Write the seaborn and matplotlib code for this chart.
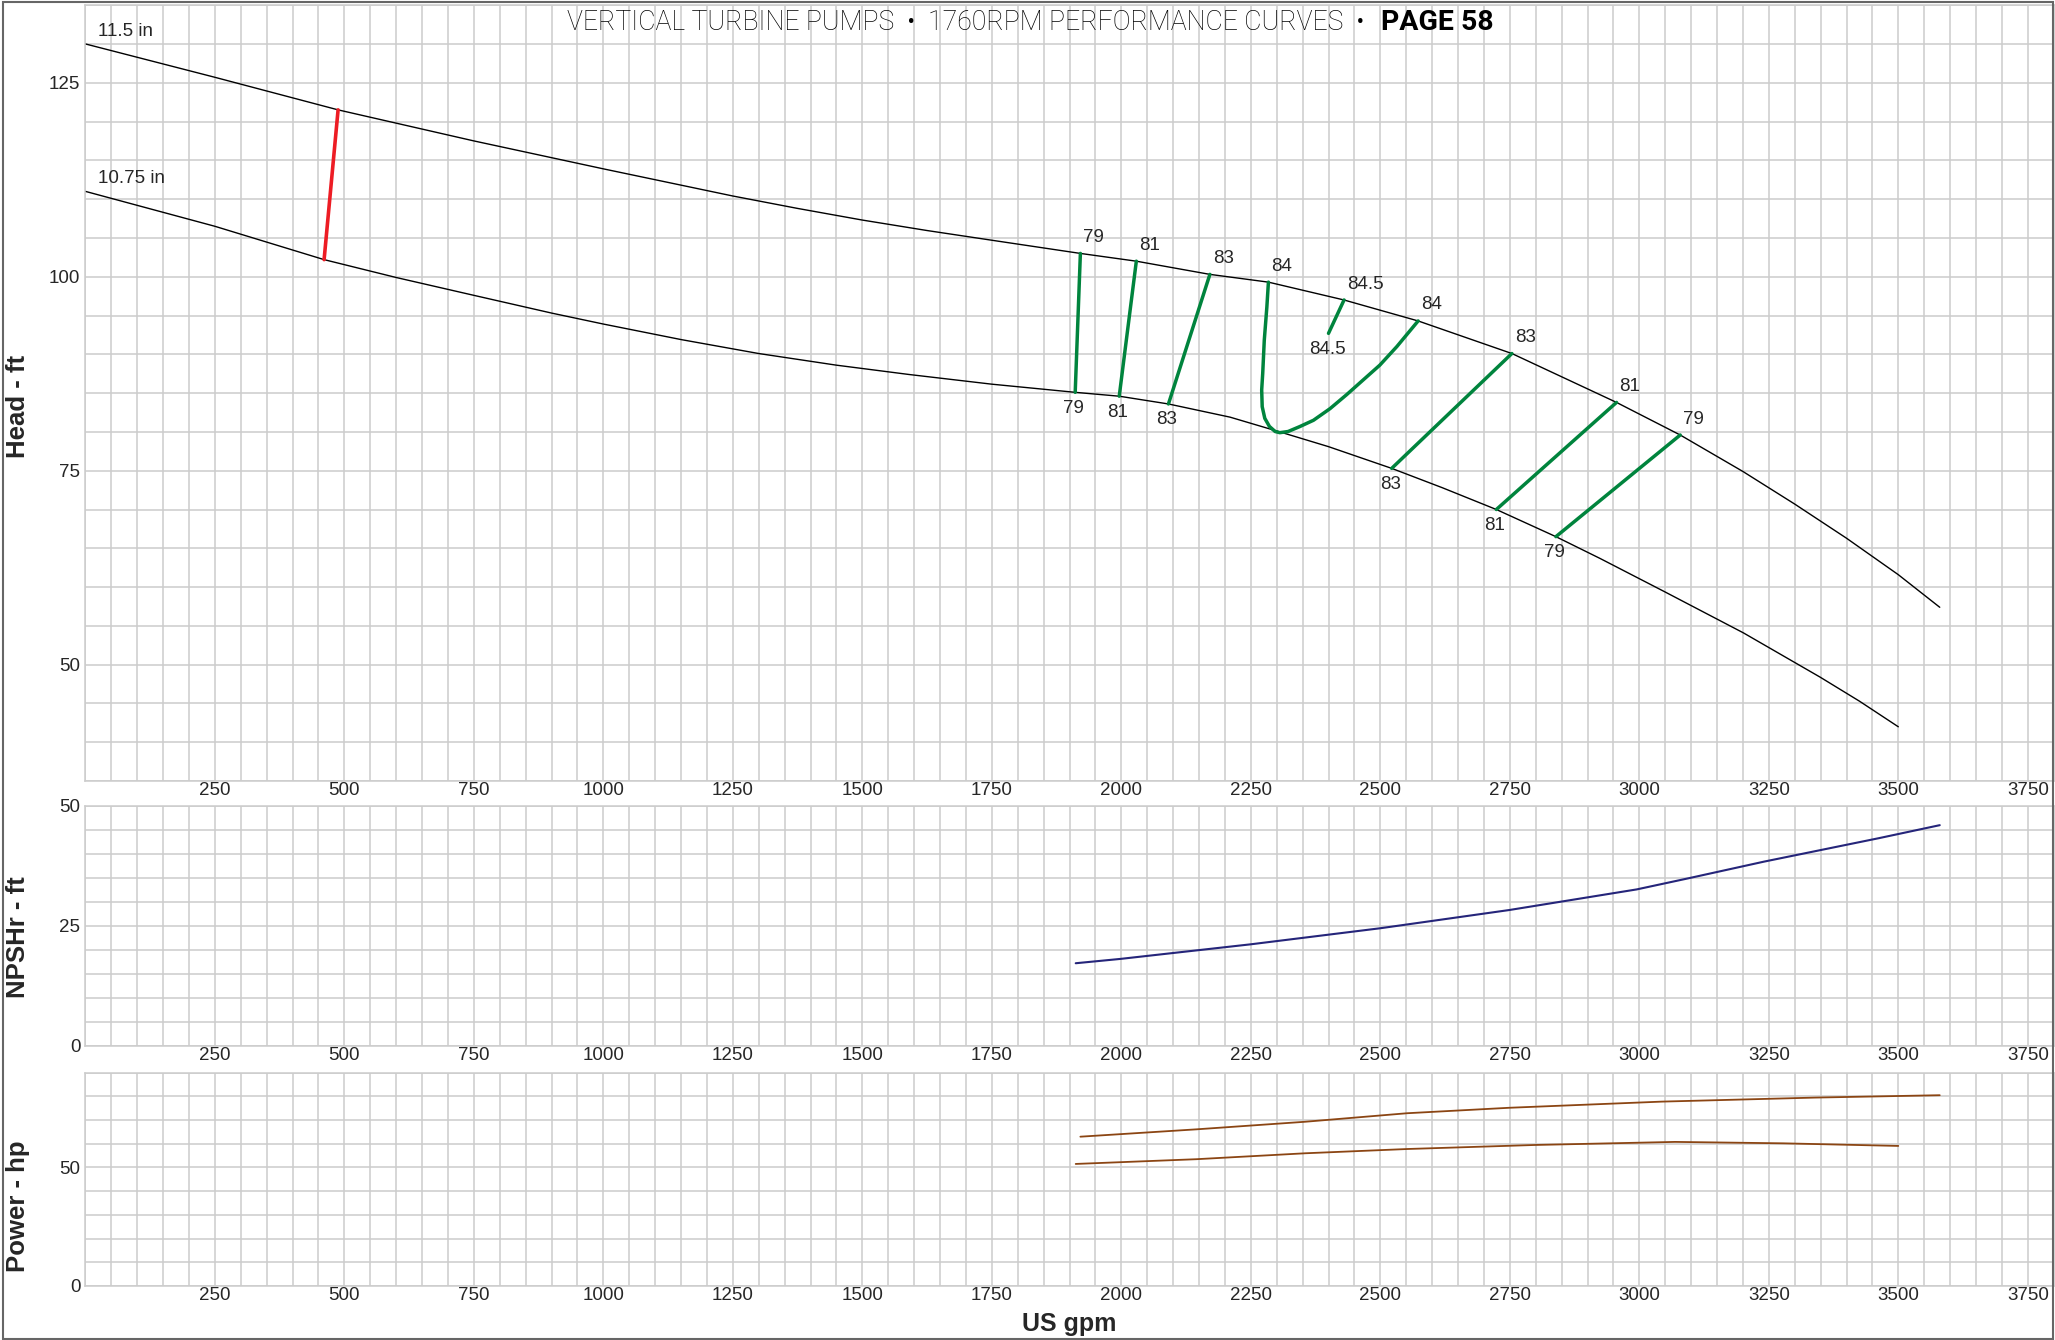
import matplotlib
matplotlib.use("Agg")
import matplotlib.pyplot as plt
from matplotlib.ticker import MultipleLocator, FixedLocator
from matplotlib.patches import Rectangle
import seaborn as sns

# head curves (US gpm, ft)
gpm_115 = [0, 250, 488, 750, 1000, 1250, 1375, 1500, 1625, 1750, 1921, 2029,
           2171, 2284, 2430, 2573, 2754, 2956, 3079, 3200, 3300, 3400, 3500,
           3580]
head_115 = [130.0, 125.7, 121.5, 117.5, 113.9, 110.4, 108.8, 107.3, 105.95,
            104.7, 103.0, 102.0, 100.3, 99.3, 97.0, 94.3, 90.1, 83.8, 79.6,
            74.9, 70.7, 66.3, 61.6, 57.4]
gpm_1075 = [0, 250, 461, 600, 750, 901, 1000, 1150, 1300, 1450, 1590, 1750,
            1911, 1996, 2091, 2210, 2306, 2400, 2522, 2620, 2724, 2839, 2924,
            3049, 3201, 3349, 3425, 3500]
head_1075 = [111.0, 106.5, 102.2, 99.9, 97.6, 95.3, 93.9, 91.9, 90.1, 88.6,
             87.4, 86.15, 85.1, 84.6, 83.6, 81.9, 80.0, 78.1, 75.3, 72.8, 70.0,
             66.5, 63.7, 59.4, 54.1, 48.4, 45.3, 42.0]

# min flow line (red)
minflow_gpm = [488, 461]
minflow_head = [121.5, 102.2]

# efficiency iso lines, top point on 11.5 in, bottom point on 10.75 in
eff_labels = ["79", "81", "83", "83", "81", "79"]
eff_top_gpm = [1921, 2029, 2171, 2754, 2956, 3079]
eff_top_head = [103.0, 102.0, 100.3, 90.1, 83.8, 79.6]
eff_bot_gpm = [1911, 1996, 2091, 2522, 2724, 2839]
eff_bot_head = [85.1, 84.6, 83.6, 75.3, 70.0, 66.5]

# 84 % loop
eff84_gpm = [2284, 2281, 2276, 2273, 2271, 2272, 2277, 2286, 2297, 2306, 2322,
             2345, 2371, 2403, 2435, 2467, 2499, 2532, 2573]
eff84_head = [99.3, 96.1, 91.8, 87.55, 85.4, 83.25, 81.75, 80.7, 80.05, 79.9,
              80.05, 80.7, 81.5, 83.0, 84.8, 86.7, 88.6, 91.0, 94.3]

# 84.5 % stub
eff845_gpm = [2430, 2400]
eff845_head = [97.0, 92.7]

# NPSHr
npsh_gpm = [1912, 1998, 2250, 2500, 2749, 2995, 3094, 3241, 3463, 3580]
npsh_ft = [17.2, 18.1, 21.15, 24.5, 28.3, 32.6, 34.9, 38.4, 43.3, 46.0]

# power
pow115_gpm = [1921, 2145, 2355, 2552, 2749, 3044, 3340, 3580]
pow115_hp = [63.0, 66.1, 69.3, 72.9, 75.2, 77.8, 79.5, 80.5]
pow1075_gpm = [1912, 2145, 2355, 2552, 2798, 3069, 3278, 3500]
pow1075_hp = [51.5, 53.5, 56.0, 57.8, 59.5, 60.8, 60.2, 59.1]

x_ticks = list(range(250, 3751, 250))

sns.set_style("white")
plt.rcParams["font.family"] = ["Liberation Sans", "DejaVu Sans"]

GRID = "#cccccc"
GREEN = "#00843d"

fig = plt.figure(figsize=(20.55, 13.4), dpi=100)
left, width = 0.04151, 0.95786
ax_h = fig.add_axes([left, 0.41709, width, 0.57910])
ax_n = fig.add_axes([left, 0.21963, width, 0.17888])
ax_p = fig.add_axes([left, 0.04030, width, 0.15918])


def style_axis(ax, ylim, yticks, yminor):
    ax.set_xlim(0, 3800)
    ax.set_ylim(*ylim)
    ax.xaxis.set_major_locator(FixedLocator(x_ticks))
    ax.xaxis.set_minor_locator(MultipleLocator(50))
    ax.yaxis.set_major_locator(FixedLocator(yticks))
    ax.yaxis.set_minor_locator(MultipleLocator(yminor))
    ax.grid(which="both", color=GRID, lw=1.1)
    ax.set_axisbelow(True)
    ax.tick_params(which="both", length=0, labelsize=13.5)
    ax.tick_params(axis="x", pad=1)
    ax.tick_params(axis="y", pad=3.5)
    for s in ax.spines.values():
        s.set_color(GRID)
        s.set_linewidth(1.1)


style_axis(ax_h, (35, 135), [50, 75, 100, 125], 5)
style_axis(ax_n, (0, 50), [0, 25, 50], 5)
style_axis(ax_p, (0, 90), [0, 50], 10)

# head curves
sns.lineplot(x=gpm_115, y=head_115, color="black", lw=1.0, ax=ax_h,
             estimator=None, sort=False)
sns.lineplot(x=gpm_1075, y=head_1075, color="black", lw=1.0, ax=ax_h,
             estimator=None, sort=False)
sns.lineplot(x=minflow_gpm, y=minflow_head, color="#ed1c24", lw=2.6, ax=ax_h,
             estimator=None, sort=False)

for lab, xt, yt, xb, yb in zip(eff_labels, eff_top_gpm, eff_top_head,
                               eff_bot_gpm, eff_bot_head):
    sns.lineplot(x=[xt, xb], y=[yt, yb], color=GREEN, lw=2.5, ax=ax_h,
                 estimator=None, sort=False)
    ax_h.annotate(lab, (xt, yt), xytext=(2, 11.5), textcoords="offset points",
                  ha="left", va="center", fontsize=13.5)
    ax_h.annotate(lab, (xb, yb), xytext=(-1, -11.5), textcoords="offset points",
                  ha="center", va="center", fontsize=13.5)

sns.lineplot(x=eff84_gpm, y=eff84_head, color=GREEN, lw=2.5, ax=ax_h,
             estimator=None, sort=False)
for xe, ye in [(eff84_gpm[0], eff84_head[0]), (eff84_gpm[-1], eff84_head[-1])]:
    ax_h.annotate("84", (xe, ye), xytext=(2, 11.5), textcoords="offset points",
                  ha="left", va="center", fontsize=13.5)

sns.lineplot(x=eff845_gpm, y=eff845_head, color=GREEN, lw=2.5, ax=ax_h,
             estimator=None, sort=False)
ax_h.annotate("84.5", (eff845_gpm[0], eff845_head[0]), xytext=(2, 11.5),
              textcoords="offset points", ha="left", va="center", fontsize=13.5)
ax_h.annotate("84.5", (eff845_gpm[1], eff845_head[1]), xytext=(-1, -11.5),
              textcoords="offset points", ha="center", va="center", fontsize=13.5)

ax_h.annotate("11.5 in", (gpm_115[0], head_115[0]), xytext=(9, 9),
              textcoords="offset points", ha="left", va="center", fontsize=13.5)
ax_h.annotate("10.75 in", (gpm_1075[0], head_1075[0]), xytext=(9, 9),
              textcoords="offset points", ha="left", va="center", fontsize=13.5)

# NPSHr and power
sns.lineplot(x=npsh_gpm, y=npsh_ft, color="#25257a", lw=1.5, ax=ax_n,
             estimator=None, sort=False)
sns.lineplot(x=pow115_gpm, y=pow115_hp, color="#8b4513", lw=1.3, ax=ax_p,
             estimator=None, sort=False)
sns.lineplot(x=pow1075_gpm, y=pow1075_hp, color="#8b4513", lw=1.3, ax=ax_p,
             estimator=None, sort=False)

# axis labels
for ax, lab, yc in [(ax_h, "Head - ft", 0.483), (ax_n, "NPSHr - ft", 0.453),
                    (ax_p, "Power - hp", 0.375)]:
    ax.set_ylabel(lab, fontsize=18.5, fontweight="bold", va="center")
    ax.yaxis.set_label_coords(-0.0342, yc)
ax_p.set_xlabel("US gpm", fontsize=18, fontweight="bold", va="center")
ax_p.xaxis.set_label_coords(0.5, -0.178)

# title
title_y = 1 - 23 / 1340
fig.text(1364 / 2055, title_y,
         "VERTICAL TURBINE PUMPS  \u2022  1760RPM PERFORMANCE CURVES  \u2022",
         ha="right", va="center", fontsize=19.2, color="black",
         fontweight="light", family=["Roboto", "DejaVu Sans"])
fig.text(1381 / 2055, title_y, "PAGE 58", ha="left", va="center",
         fontsize=20.5, fontweight="bold", color="black",
         family=["Roboto", "DejaVu Sans"])

fig.patches.append(Rectangle((0.0015, 0.0005), 0.9975, 0.998,
                             transform=fig.transFigure, fill=False,
                             ec="#666666", lw=1.5))

fig.savefig("out.png", dpi=100)
